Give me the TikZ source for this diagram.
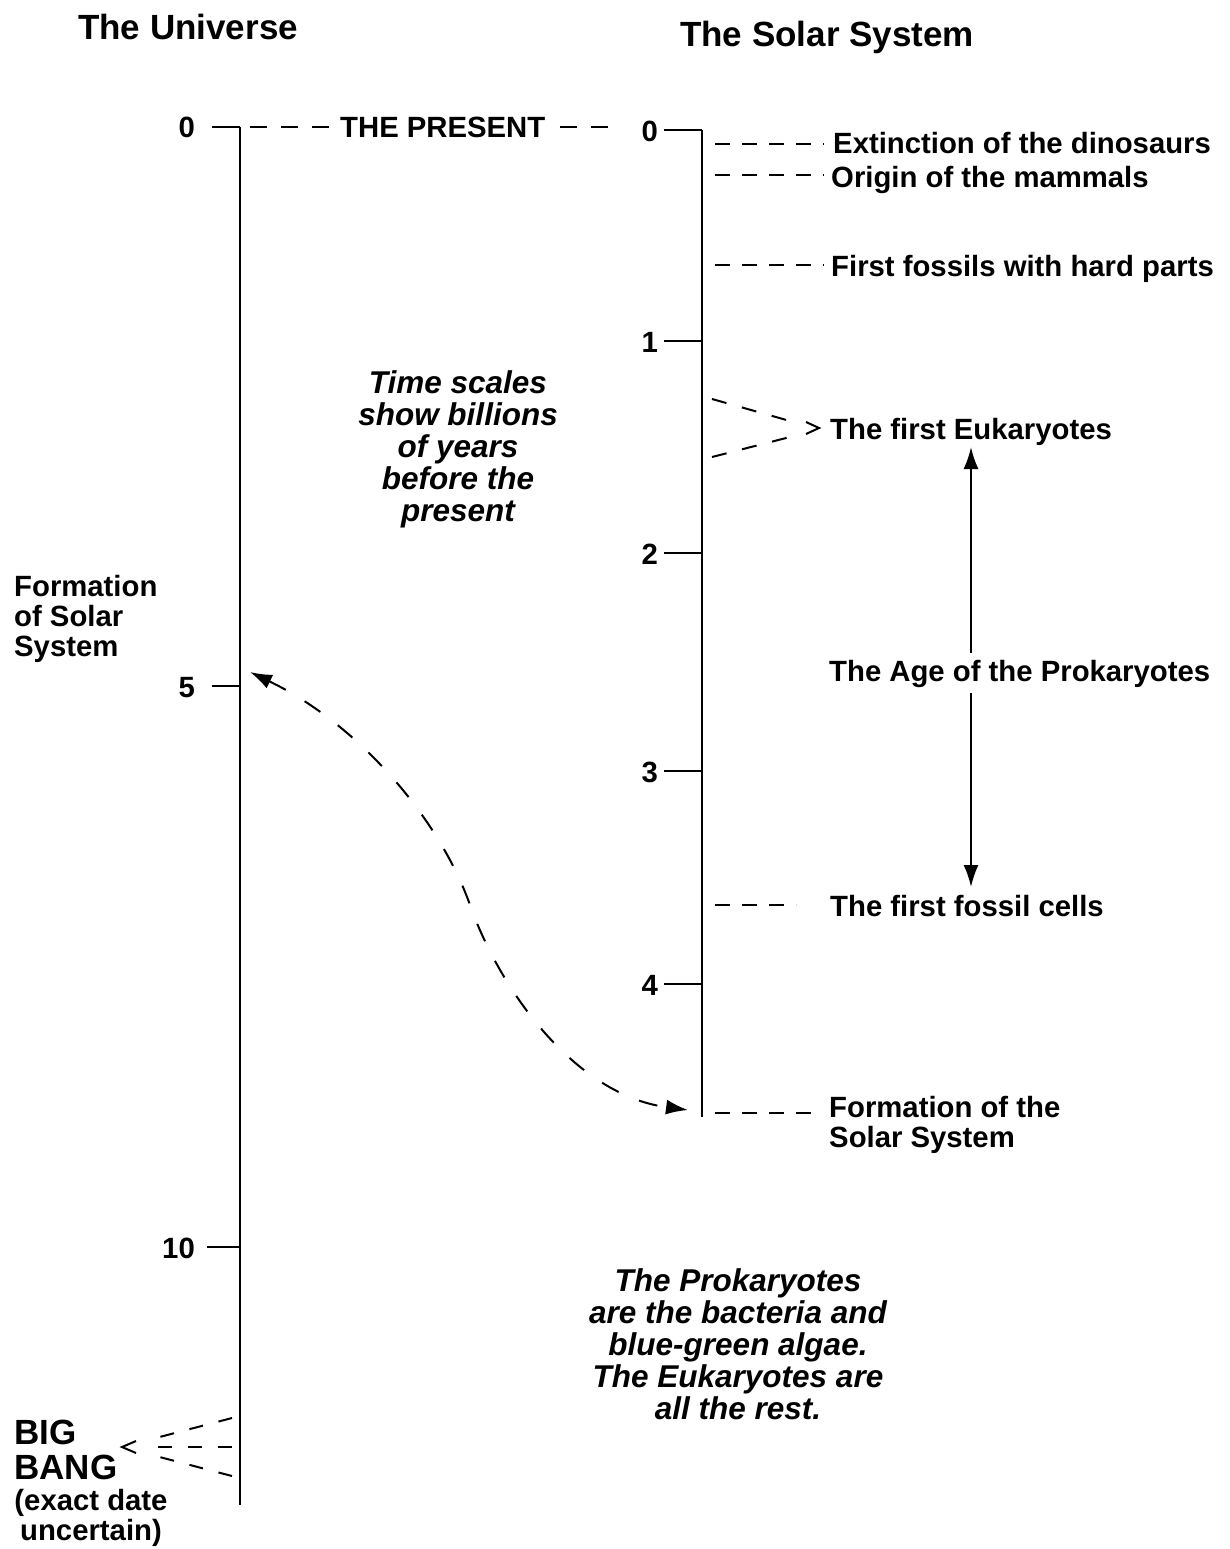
\documentclass[tikz,border=0pt]{standalone}
\usepackage{fontspec}
\setmainfont{Liberation Sans}
\usetikzlibrary{arrows.meta,calc}
\begin{document}
\begin{tikzpicture}[x=1pt,y=-1pt,
  lbl/.style={font=\fontsize{29.3}{30}\selectfont\bfseries, inner sep=0pt},
  head/.style={font=\fontsize{35}{36}\selectfont\bfseries, inner sep=0pt},
  bang/.style={font=\fontsize{35}{35}\selectfont\bfseries, inner sep=0pt, align=left},
  note/.style={font=\fontsize{31.5}{32}\selectfont\bfseries\itshape, align=center, inner sep=0pt},
  axisline/.style={line width=2.6pt},
  tickline/.style={line width=2pt},
  lead/.style={line width=2pt, dash pattern=on 15pt off 12pt},
  chev/.style={line width=2pt, dash pattern=on 14pt off 16pt},
  barb/.style={line width=2pt, line join=miter},
]
\useasboundingbox (0,0) rectangle (1229,1549);

% column headings
\node[head, anchor=base west] (hu) at (78,40) {The Universe};
\node[head, anchor=base west] (hs) at (680,47) {The Solar System};

% ---------- universe time axis ----------
\coordinate (u0) at (240,127);
\coordinate (u5) at (240,686);
\coordinate (u10) at (240,1247);
\coordinate (uend) at (240,1505);
\draw[axisline] (u0) -- (uend);
\draw[tickline] (212,127) -- (u0);
\draw[tickline] (212,686) -- (u5);
\draw[tickline] (207,1247) -- (u10);
\node[lbl, anchor=base east] (n0u) at (195,138) {0};
\node[lbl, anchor=base east] (n5u) at (195,697) {5};
\node[lbl, anchor=base east] (n10u) at (195,1258) {10};

% ---------- solar system time axis ----------
\coordinate (s0) at (702,130);
\coordinate (s1) at (702,341);
\coordinate (s2) at (702,553);
\coordinate (s3) at (702,771);
\coordinate (s4) at (702,984);
\coordinate (send) at (702,1117);
\draw[axisline] (s0) -- (send);
\foreach \p in {s0,s1,s2,s3,s4} \draw[tickline] ($(\p)+(-38,0)$) -- (\p);
\node[lbl, anchor=base east] (n0s) at (658,142) {0};
\node[lbl, anchor=base east] (n1s) at (658,352) {1};
\node[lbl, anchor=base east] (n2s) at (658,564) {2};
\node[lbl, anchor=base east] (n3s) at (658,782) {3};
\node[lbl, anchor=base east] (n4s) at (658,995) {4};

% the present, linking both zeros
\node[lbl, anchor=base west] (present) at (340,138) {THE PRESENT};
\draw[lead, dash pattern=on 17pt off 14pt] (250,127) -- ([xshift=-10pt]present.west |- 0,127);
\draw[lead, dash pattern=on 17pt off 14pt] ([xshift=14pt]present.east |- 0,127) -- (612,127);

% ---------- events on the solar system scale ----------
\coordinate (lx) at (715,0);
\node[lbl, anchor=base west] (ext) at (833,154) {Extinction of the dinosaurs};
\node[lbl, anchor=base west] (mam) at (831,188) {Origin of the mammals};
\node[lbl, anchor=base west] (hard) at (831,276) {First fossils with hard parts};
\node[lbl, anchor=base west] (euk) at (830,439) {The first Eukaryotes};
\node[lbl, anchor=base west] (cells) at (830,916) {The first fossil cells};
\node[lbl, anchor=west, align=left] (form) at (829,1125) {Formation of the\\Solar System};

\draw[lead] (lx |- 0,144) -- (824,144);
\draw[lead] (lx |- 0,175) -- (824,175);
\draw[lead] (lx |- 0,265) -- (824,265);
\draw[lead] (lx |- 0,905) -- (796,905);
\draw[lead] (lx |- 0,1113) -- (822,1113);

% converging leaders for the first eukaryotes
\coordinate (eutip) at (819,428);
\draw[chev, dash pattern=on 15pt off 16pt] (712,399) -- (790,421);
\draw[chev, dash pattern=on 15pt off 16pt] (712,457) -- (790,437);
\draw[barb] ($(eutip)+(-13,-6)$) -- (eutip) -- ($(eutip)+(-13,6)$);

% the age of the prokaryotes
\coordinate (agetop) at (971,447);
\coordinate (agebot) at (971,887);
\draw[line width=2pt, {Latex[length=22pt,width=15pt]}-{Latex[length=22pt,width=15pt]}] (agetop) -- (agebot);
\node[lbl, anchor=base west, fill=white, inner ysep=6pt, inner xsep=0pt,
      text height=22pt, text depth=6pt] (age) at (829,681) {The Age of the Prokaryotes};

% ---------- universe events ----------
\node[lbl, anchor=west, align=left] (formu) at (14,619) {Formation\\of Solar\\System};

% dashed link between the two formation dates
\coordinate (ufs) at (250,672);
\coordinate (sfs) at (688,1110);
\draw[line width=2pt, dash pattern=on 19pt off 22pt,
      {Latex[length=22pt,width=15pt]}-{Latex[length=22pt,width=15pt]}]
  (ufs) .. controls (360,725) and (440,820) .. (470,905)
        .. controls (500,990) and (575,1095) .. (sfs);

% big bang
\node[bang, anchor=west] (bb) at (14,1450) {BIG\\BANG};
\node[lbl, align=center, anchor=center] (bbnote) at (91,1518) {(exact date\\uncertain)};
\coordinate (bbtip) at (122,1447);
\draw[chev] (232,1447) -- (150,1447);
\draw[chev] (232,1418) -- (152,1439);
\draw[chev] (232,1476) -- (152,1455);
\draw[barb] ($(bbtip)+(14,-6)$) -- (bbtip) -- ($(bbtip)+(14,6)$);

% explanatory notes
\node[note] (scale) at (458,449) {Time scales\\show billions\\of years\\before the\\present};
\node[note] (prok) at (738,1344) {The Prokaryotes\\are the bacteria and\\blue-green algae.\\The Eukaryotes are\\all the rest.};
\end{tikzpicture}
\end{document}
